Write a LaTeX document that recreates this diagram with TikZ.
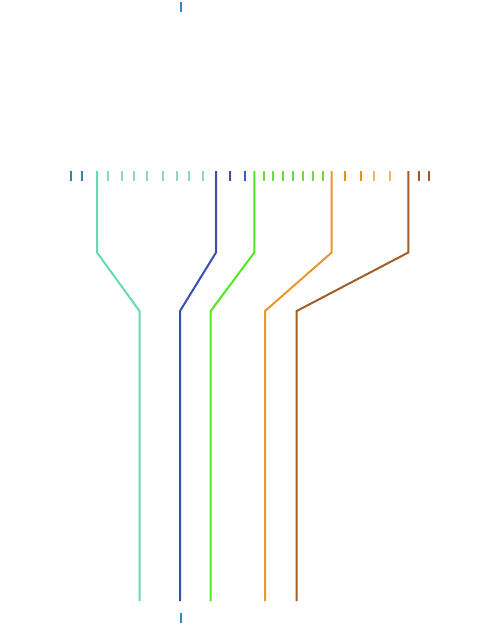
\documentclass[tikz,border=0pt]{standalone}
\begin{document}
\begin{tikzpicture}[x=1pt,y=-1pt,
  tk/.style={line width=2pt},
  ln/.style={line width=2pt,line join=miter}]
\definecolor{tdark}{RGB}{40,140,165}
\definecolor{ttop}{RGB}{40,140,195}
\definecolor{tlight}{RGB}{140,215,195}
\definecolor{tline}{RGB}{102,217,178}
\definecolor{bline}{RGB}{55,80,170}
\definecolor{btick}{RGB}{70,80,150}
\definecolor{btick2}{RGB}{60,85,215}
\definecolor{gline}{RGB}{80,232,30}
\definecolor{gtick}{RGB}{110,220,60}
\definecolor{oline}{RGB}{235,150,45}
\definecolor{otick}{RGB}{250,140,25}
\definecolor{otick2}{RGB}{240,180,100}
\definecolor{brline}{RGB}{160,95,40}
\definecolor{brtick}{RGB}{150,90,45}
\useasboundingbox (0,0) rectangle (500,625);
% top and bottom ticks
\coordinate (tt1) at (181,2); \coordinate (tt2) at (181,12);
\draw[tk,ttop] (tt1) -- (tt2);
\coordinate (bt1) at (181,613); \coordinate (bt2) at (181,623);
\draw[tk,ttop] (bt1) -- (bt2);
% tick row
\foreach \x in {71,82} \draw[tk,tdark] (\x,171) -- (\x,181);
\foreach \x in {108.3,121.7,134,147.3,163.3,176.7,189.3,202.7} \draw[tk,tlight] (\x,171) -- (\x,181);
\draw[tk,btick] (230,171) -- (230,181);
\draw[tk,btick2] (244.5,171) -- (244.5,181);
\foreach \x in {264,273.3,283.3,293.3,302.7,312.7,322.7} \draw[tk,gtick] (\x,171) -- (\x,181);
\foreach \x in {345,360.7} \draw[tk,otick] (\x,171) -- (\x,181);
\foreach \x in {374,390} \draw[tk,otick2] (\x,171) -- (\x,181);
\foreach \x in {419.3,429.3} \draw[tk,brtick] (\x,171) -- (\x,181);
% lines
\coordinate (a0) at (97,171); \coordinate (a1) at (97,252.5); \coordinate (a2) at (139.5,311); \coordinate (a3) at (139.5,601);
\draw[ln,tline] (a0) -- (a1) -- (a2) -- (a3);
\coordinate (b0) at (216,171); \coordinate (b1) at (216,252.5); \coordinate (b2) at (180,311); \coordinate (b3) at (180,601);
\draw[ln,bline] (b0) -- (b1) -- (b2) -- (b3);
\coordinate (c0) at (254.3,171); \coordinate (c1) at (254.3,252.5); \coordinate (c2) at (210.7,311); \coordinate (c3) at (210.7,601);
\draw[ln,gline] (c0) -- (c1) -- (c2) -- (c3);
\coordinate (d0) at (331.7,171); \coordinate (d1) at (331.7,252.5); \coordinate (d2) at (265,311); \coordinate (d3) at (265,601);
\draw[ln,oline] (d0) -- (d1) -- (d2) -- (d3);
\coordinate (e0) at (408.3,171); \coordinate (e1) at (408.3,252.5); \coordinate (e2) at (296.7,311); \coordinate (e3) at (296.7,601);
\draw[ln,brline] (e0) -- (e1) -- (e2) -- (e3);
\end{tikzpicture}
\end{document}
